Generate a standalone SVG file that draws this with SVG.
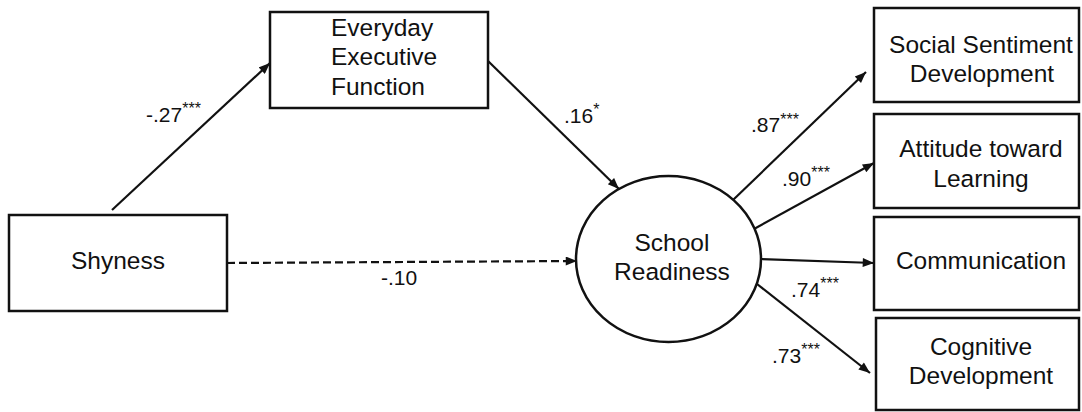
<svg xmlns="http://www.w3.org/2000/svg" width="1082" height="412" viewBox="0 0 1082 412">
<defs>
<style>
.box{fill:#fff;stroke:#111;stroke-width:2.5}
.t{font-family:"Liberation Sans",Arial,sans-serif;font-size:24.5px;fill:#111}
.c{text-anchor:middle}
.lbl{font-family:"Liberation Sans",Arial,sans-serif;font-size:21px;fill:#111}
.sup{font-size:16px}
.edge{fill:none;stroke:#111;stroke-width:2.2}
.dash{stroke-dasharray:8,4}
</style>
<marker id="arr" viewBox="0 0 10 8" refX="10" refY="4" markerWidth="13" markerHeight="9" markerUnits="userSpaceOnUse" orient="auto">
<path d="M0,0 L10,4 L0,8 Z" fill="#111"/>
</marker>
</defs>
<rect width="1082" height="412" fill="#fff"/>
<g id="connectors">
<line class="edge" x1="112" y1="210" x2="270" y2="63" marker-end="url(#arr)"/>
<line class="edge" x1="488" y1="61" x2="619" y2="189" marker-end="url(#arr)"/>
<line class="edge dash" x1="227" y1="263" x2="577" y2="261" marker-end="url(#arr)"/>
<line class="edge" x1="733" y1="200" x2="866" y2="72" marker-end="url(#arr)"/>
<line class="edge" x1="754" y1="229" x2="874" y2="163" marker-end="url(#arr)"/>
<line class="edge" x1="761" y1="259" x2="874" y2="263" marker-end="url(#arr)"/>
<line class="edge" x1="757" y1="284" x2="870" y2="373" marker-end="url(#arr)"/>
<text class="lbl" x="146" y="122">-.27<tspan class="sup" dy="-8">***</tspan></text>
<text class="lbl" x="564" y="123">.16<tspan class="sup" dy="-8">*</tspan></text>
<text class="lbl" x="381" y="285">-.10</text>
<text class="lbl" x="751" y="132">.87<tspan class="sup" dy="-7">***</tspan></text>
<text class="lbl" x="782" y="186">.90<tspan class="sup" dy="-8">***</tspan></text>
<text class="lbl" x="791" y="297">.74<tspan class="sup" dy="-8">***</tspan></text>
<text class="lbl" x="772" y="363">.73<tspan class="sup" dy="-8">***</tspan></text>
</g>
<g id="shyness">
<rect class="box" x="9" y="215" width="218" height="96"/>
<text class="t c" x="118" y="269">Shyness</text>
</g>
<g id="everyday-ef">
<rect class="box" x="270" y="12" width="218" height="96"/>
<text class="t" x="331" y="36">Everyday</text>
<text class="t" x="331" y="65">Executive</text>
<text class="t" x="331" y="95">Function</text>
</g>
<g id="school-readiness">
<ellipse class="box" cx="668.5" cy="259" rx="92.5" ry="83"/>
<text class="t c" x="672" y="251">School</text>
<text class="t c" x="672" y="280">Readiness</text>
</g>
<g id="social-sentiment">
<rect class="box" x="874" y="8" width="205" height="94"/>
<text class="t c" x="981" y="53">Social Sentiment</text>
<text class="t c" x="982" y="82">Development</text>
</g>
<g id="attitude">
<rect class="box" x="874" y="114" width="205" height="94"/>
<text class="t c" x="981" y="157">Attitude toward</text>
<text class="t c" x="981" y="187">Learning</text>
</g>
<g id="communication">
<rect class="box" x="874" y="217" width="205" height="93"/>
<text class="t c" x="981" y="269">Communication</text>
</g>
<g id="cognitive">
<rect class="box" x="876" y="318" width="203" height="92"/>
<text class="t c" x="981" y="355">Cognitive</text>
<text class="t c" x="981" y="384">Development</text>
</g>
</svg>
